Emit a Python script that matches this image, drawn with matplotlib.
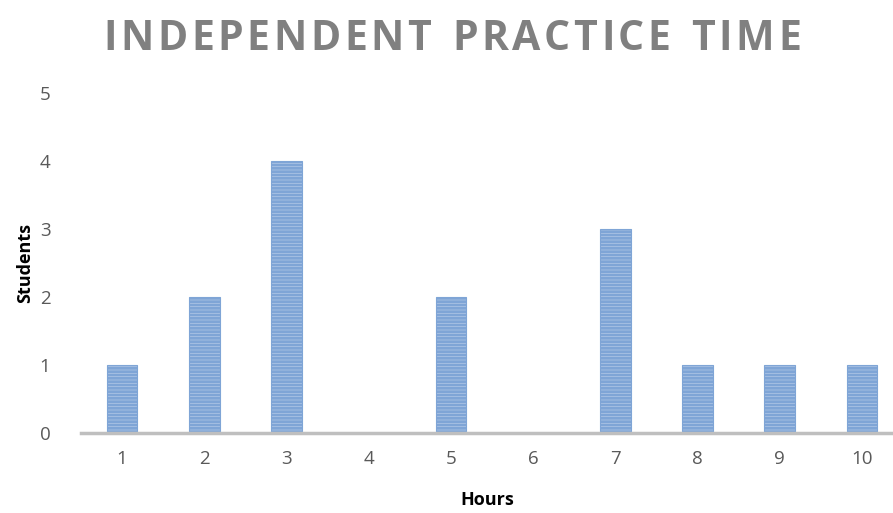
import matplotlib as mpl
import matplotlib.pyplot as plt
import numpy as np

mpl.rcParams["font.family"] = ["Open Sans", "DejaVu Sans"]
mpl.rcParams["hatch.linewidth"] = 2.0

hours = [1, 2, 3, 4, 5, 6, 7, 8, 9, 10]
students = [1, 2, 4, 0, 2, 0, 3, 1, 1, 1]
y_ticks = [0, 1, 2, 3, 4, 5]

TEXT_GREY = "#595959"

fig = plt.figure(figsize=(8.93, 5.13), dpi=100)
ax = fig.add_axes([81 / 893, 80 / 513, 812 / 893, 340 / 513])

mpl.rcParams["hatch.color"] = "#4a7ebb"
ax.bar(hours, students, width=0.37, color="#bfd1ea", edgecolor="#7fa5d6",
       linewidth=0.8, hatch="-----")

ax.set_xlim(0.5, 0.5 + 812 / 82.2)
ax.set_ylim(0, 5)
ax.set_xticks(hours)
ax.set_yticks(y_ticks)

for side in ["top", "right", "left"]:
    ax.spines[side].set_visible(False)
ax.spines["bottom"].set_color("#bfbfbf")
ax.spines["bottom"].set_linewidth(2.5)
ax.tick_params(length=0, labelsize=13.5, colors=TEXT_GREY, pad=12)
ax.tick_params(axis="y", pad=22)

ax.set_xlabel("Hours", fontsize=13, fontweight="bold", color="black", labelpad=17)
ax.set_ylabel("Students", fontsize=13, fontweight="bold", color="black", labelpad=4)

# title with letter spacing, drawn char by char
title = "INDEPENDENT PRACTICE TIME"
fig.canvas.draw()
renderer = fig.canvas.get_renderer()
spacing = 3.6
widths = []
items = []
for ch in title:
    t = fig.text(0, 0, ch if ch != " " else "I", fontsize=29.5, fontweight="bold",
                 color="#808080")
    w = t.get_window_extent(renderer).width
    if ch == " ":
        t.set_text("")
    widths.append(w)
    items.append(t)
total = sum(widths) + spacing * (len(title) - 1)
x = 452 - total / 2
for t, w in zip(items, widths):
    t.set_position((x / 893, 1 - 50 / 513))
    x += w + spacing

fig.savefig("out.png", dpi=100)
